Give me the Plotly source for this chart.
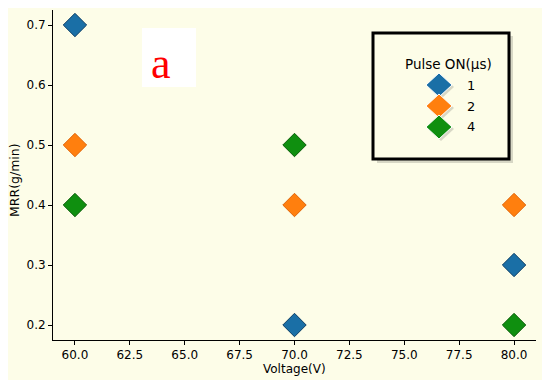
import plotly.graph_objects as go

voltage = [60, 70, 80]
pulse_labels = ["1", "2", "4"]
mrr_pulse1 = [0.7, 0.2, 0.3]
mrr_pulse2 = [0.5, 0.4, 0.4]
mrr_pulse4 = [0.4, 0.5, 0.2]
series = [mrr_pulse1, mrr_pulse2, mrr_pulse4]
colors = ["#1a6fa6", "#ff7f0e", "#0f8f0f"]
edges = ["#0d3f66", "#e0650a", "#0a5e0a"]
x_ticks = [60.0, 62.5, 65.0, 67.5, 70.0, 72.5, 75.0, 77.5, 80.0]
y_ticks = [0.2, 0.3, 0.4, 0.5, 0.6, 0.7]

bg = "#fdfde8"
fig = go.Figure()
for lab, ys, c, e in zip(pulse_labels, series, colors, edges):
    fig.add_trace(go.Scatter(
        x=voltage, y=ys, mode="markers", name=lab, showlegend=False,
        marker=dict(symbol="diamond", size=18, color=c,
                    line=dict(color=e, width=1)),
    ))

# page body has an 8px margin; figure drawn from (8, 8)
OX, OY = 8, 8
W, H = 535, 372
# plot area in reference (window) pixels
L, R, T, B = 53, 536, 10, 340
ml, mr, mt, mb = L - OX, W - (R - OX), T - OY, H - (B - OY)
pw, ph = R - L, B - T

def px(x):
    return (x - L) / pw

def py(y):
    return (B - y) / ph

def diamond_path(cx, cy, hw, hh):
    pts = [(cx, cy - hh), (cx + hw, cy), (cx, cy + hh), (cx - hw, cy)]
    return "M " + " L ".join(f"{px(a):.5f},{py(b):.5f}" for a, b in pts) + " Z"

shapes = [
    # legend shadow
    dict(type="rect", xref="paper", yref="paper",
         x0=px(377), x1=px(513), y0=py(163), y1=py(36),
         line=dict(width=0), fillcolor="rgba(0,0,0,0.15)", layer="above"),
    dict(type="rect", xref="paper", yref="paper",
         x0=px(373), x1=px(509), y0=py(159), y1=py(33),
         line=dict(color="black", width=3), fillcolor=bg, layer="above"),
    # label box
    dict(type="rect", xref="paper", yref="paper",
         x0=px(142), x1=px(196), y0=py(87), y1=py(28),
         line=dict(width=0), fillcolor="white", layer="below"),
]

annotations = [
    dict(text="a", xref="paper", yref="paper", x=px(161), y=py(63),
         showarrow=False, font=dict(family="Liberation Serif", size=44, color="red"),
         xanchor="center", yanchor="middle"),
    dict(text="Pulse ON(μs)", xref="paper", yref="paper", x=px(448), y=py(64),
         showarrow=False, font=dict(size=13.5), xanchor="center", yanchor="middle"),
    dict(text="Voltage(V)", xref="paper", yref="paper", x=px(294), y=py(369),
         showarrow=False, font=dict(size=12), xanchor="center", yanchor="middle"),
    dict(text="MRR(g/min)", xref="paper", yref="paper", x=px(14), y=py(180),
         showarrow=False, font=dict(size=12.5), textangle=-90,
         xanchor="center", yanchor="middle"),
]

# manual legend
leg_y = [85, 106, 127]
for lab, c, yy in zip(pulse_labels, colors, leg_y):
    shapes.append(dict(type="path", xref="paper", yref="paper",
                       path=diamond_path(441, yy + 2, 13, 12),
                       line=dict(width=0), fillcolor="rgba(0,0,0,0.15)", layer="above"))
    shapes.append(dict(type="path", xref="paper", yref="paper",
                       path=diamond_path(439, yy, 13, 12),
                       line=dict(color="white", width=1), fillcolor=c, layer="above"))
    annotations.append(dict(text=lab, xref="paper", yref="paper", x=px(465), y=py(yy),
                            showarrow=False, font=dict(size=13),
                            xanchor="left", yanchor="middle"))

fig.update_layout(
    width=W, height=H,
    margin=dict(l=ml, r=mr, t=mt, b=mb, autoexpand=False),
    paper_bgcolor=bg, plot_bgcolor=bg,
    font=dict(family="DejaVu Sans", size=12, color="black"),
    shapes=shapes, annotations=annotations,
    showlegend=False,
    xaxis=dict(range=[59.0, 81.0], tickvals=x_ticks,
               ticktext=[f"{v:.1f}" for v in x_ticks], automargin=False,
               showgrid=False, zeroline=False, showline=True, linecolor="black",
               linewidth=1, ticks="outside", ticklen=4, tickcolor="black"),
    yaxis=dict(range=[0.175, 0.725], tickvals=y_ticks,
               ticktext=[f"{v:.1f}" for v in y_ticks], automargin=False,
               showgrid=False, zeroline=False, showline=True, linecolor="black",
               linewidth=1, ticks="outside", ticklen=4, tickcolor="black"),
)

fig.write_html("out.html")
